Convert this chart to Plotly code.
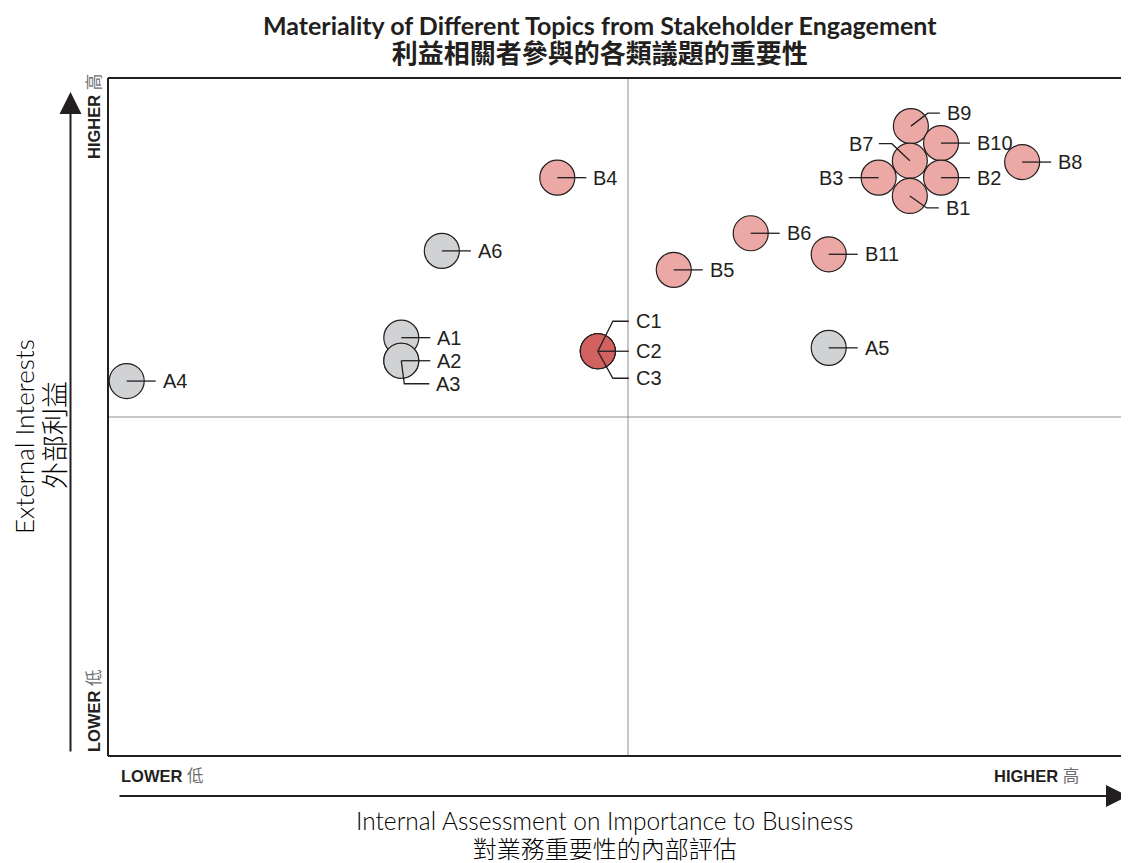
import plotly.graph_objects as go

# ---------------- data ----------------
labels = ["A4", "A6", "A1", "A3", "A2", "A5",
          "C1", "C3", "C2",
          "B4", "B5", "B6", "B11",
          "B9", "B7", "B10", "B3", "B2", "B1", "B8"]
groups = ["A", "A", "A", "A", "A", "A",
          "C", "C", "C",
          "B", "B", "B", "B",
          "B", "B", "B", "B", "B", "B", "B"]
x_vals = [1.8, 32.1, 28.2, 28.2, 28.2, 69.3,
          47.1, 47.1, 47.1,
          43.2, 54.4, 61.8, 69.3,
          77.2, 77.1, 80.1, 74.1, 80.1, 77.1, 87.9]
y_vals = [55.3, 74.5, 61.7, 58.3, 58.3, 60.2,
          59.7, 59.7, 59.7,
          85.3, 71.7, 77.1, 74.0,
          92.9, 87.8, 90.4, 85.3, 85.3, 82.6, 87.6]

title_en = "Materiality of Different Topics from Stakeholder Engagement"
title_zh = "利益相關者參與的各類議題的重要性"
xtitle_en = "Internal Assessment on Importance to Business"
xtitle_zh = "對業務重要性的內部評估"
ytitle_en = "External Interests"
ytitle_zh = "外部利益"
low_txt = "LOWER"
low_zh = "低"
high_txt = "HIGHER"
high_zh = "高"

# ---------------- styling ----------------
OFF = 8                      # page body margin
W, H = 1129 - OFF, 863 - OFF
ML, MT, MB, MR = 108 - OFF, 78 - OFF, 107, 0
PX_X = 1040 / 100.0   # pixels per x unit
PX_Y = 678 / 100.0    # pixels per y unit
XMAX = (W - ML - MR) / PX_X

colors = {"A": "#D1D2D4", "B": "#EBA8A5", "C": "#D1625F"}
INK = "#231F20"

# leader paths in pixel offsets (dx, dy with dy positive downward)
default_path = [(0, 0), (29, 0)]
paths = {
    "B3": [(0, 0), (-30, 0)],
    "B7": [(0, 0), (-18, -17), (-31, -17)],
    "B9": [(0, 0), (17, -13), (29, -13)],
    "B1": [(0, 0), (17, 12), (29, 12)],
    "C1": [(0, 0), (15, -30), (31, -30)],
    "C2": [(0, 0), (31, 0)],
    "C3": [(0, 0), (15, 27), (31, 27)],
    "A3": [(0, 0), (3, 23), (28, 23)],
}

fig = go.Figure()

# quadrant lines
fig.add_shape(type="line", xref="x", yref="paper", x0=50, x1=50, y0=0, y1=1,
              line=dict(color="#8E8E8E", width=1), layer="below")
fig.add_shape(type="line", xref="paper", yref="y", x0=0, x1=1, y0=50, y1=50,
              line=dict(color="#8E8E8E", width=1), layer="below")
# frame
for (x0, y0, x1, y1) in [(0, 0, 0, 1), (0, 1, 1, 1), (0, 0, 1, 0)]:
    fig.add_shape(type="line", xref="paper", yref="paper", x0=x0, y0=y0, x1=x1, y1=y1,
                  line=dict(color=INK, width=2))

# circles
fig.add_trace(go.Scatter(
    x=x_vals, y=y_vals, mode="markers",
    marker=dict(size=35, color=[colors[g] for g in groups],
                line=dict(color=INK, width=1.2), opacity=1),
    hoverinfo="text", text=labels, showlegend=False))

# leader lines
lx, ly = [], []
for lab, x, y in zip(labels, x_vals, y_vals):
    p = paths.get(lab, default_path)
    for dx, dy in p:
        lx.append(x + dx / PX_X)
        ly.append(y - dy / PX_Y)
    lx.append(None)
    ly.append(None)
fig.add_trace(go.Scatter(x=lx, y=ly, mode="lines",
                         line=dict(color=INK, width=1.3),
                         hoverinfo="skip", showlegend=False))

LABEL_FONT = dict(family="Liberation Sans, Arial, sans-serif", size=20, color=INK)
for lab, x, y in zip(labels, x_vals, y_vals):
    p = paths.get(lab, default_path)
    ex, ey = p[-1]
    left = ex < 0
    fig.add_annotation(x=x, y=y, xref="x", yref="y", text=lab, showarrow=False,
                       xanchor="right" if left else "left", yanchor="middle",
                       xshift=ex + (-4 if left else 5), yshift=-ey,
                       font=LABEL_FONT)

def px2paper(px, py):
    # page pixel coordinates -> paper coordinates
    return (px - OFF - ML) / (W - ML - MR), (H - MB - (py - OFF)) / (H - MT - MB)

# title (two lines in one text block)
tx, ty = px2paper(600, 40)
fig.add_annotation(xref="paper", yref="paper", x=tx, y=ty,
                   text="<span style='font-size:25px'><b>" + title_en + "</b></span><br>"
                        "<span style='font-size:26px'><b>" + title_zh + "</b></span>",
                   showarrow=False, xanchor="center", yanchor="middle",
                   font=dict(family="Lato, Noto Sans CJK TC, sans-serif", size=21.5, color=INK))

# x axis title (two lines)
tx, ty = px2paper(605, 834)
fig.add_annotation(xref="paper", yref="paper", x=tx, y=ty,
                   text="<span style='font-size:24.5px'>" + xtitle_en + "</span><br>"
                        "<span style='font-size:24px'>" + xtitle_zh + "</span>",
                   showarrow=False, xanchor="center", yanchor="middle",
                   font=dict(family="Lato, Noto Sans CJK TC, sans-serif", size=21.5,
                             color="#000000", weight=300))

# y axis title
tx, ty = px2paper(24, 437)
fig.add_annotation(xref="paper", yref="paper", x=tx, y=ty, text=ytitle_en, textangle=-90,
                   showarrow=False, xanchor="center", yanchor="middle",
                   font=dict(family="Lato, sans-serif", size=26, color="#000000", weight=300))
tx, ty = px2paper(53, 435)
fig.add_annotation(xref="paper", yref="paper", x=tx, y=ty, text=ytitle_zh, textangle=-90,
                   showarrow=False, xanchor="center", yanchor="middle",
                   font=dict(family="Noto Sans CJK TC, sans-serif", size=27, color="#000000", weight=300))

# low / high labels
def lh(word, zh):
    return "<b>" + word + "</b> <span style='color:#6D6E71'>" + zh + "</span>"

SMALL = dict(family="Liberation Sans, Arial, Noto Sans CJK TC, sans-serif", size=16.5, color=INK)
tx, ty = px2paper(119, 776)
fig.add_annotation(xref="paper", yref="paper", x=tx, y=ty, text=lh(low_txt, low_zh),
                   showarrow=False, xanchor="left", yanchor="middle", font=SMALL)
tx, ty = px2paper(1081, 776)
fig.add_annotation(xref="paper", yref="paper", x=tx, y=ty, text=lh(high_txt, high_zh),
                   showarrow=False, xanchor="right", yanchor="middle", font=SMALL)
tx, ty = px2paper(94, 117)
fig.add_annotation(xref="paper", yref="paper", x=tx, y=ty, text=lh(high_txt, high_zh),
                   textangle=-90, showarrow=False, xanchor="center", yanchor="middle", font=SMALL)
tx, ty = px2paper(94, 711)
fig.add_annotation(xref="paper", yref="paper", x=tx, y=ty, text=lh(low_txt, low_zh),
                   textangle=-90, showarrow=False, xanchor="center", yanchor="middle", font=SMALL)

# axis arrows
tx, ty = px2paper(70.5, 92)
fig.add_annotation(xref="paper", yref="paper", x=tx, y=ty, text="", showarrow=True,
                   ax=0, ay=661, arrowhead=2, arrowsize=2.2, arrowwidth=2,
                   arrowcolor=INK, standoff=0)
tx, ty = px2paper(1128, 796)
fig.add_annotation(xref="paper", yref="paper", x=tx, y=ty, text="", showarrow=True,
                   ax=-1010, ay=0, arrowhead=2, arrowsize=2.2, arrowwidth=2,
                   arrowcolor=INK, standoff=0)

fig.update_layout(
    width=W, height=H,
    margin=dict(l=ML, r=MR, t=MT, b=MB),
    paper_bgcolor="white", plot_bgcolor="white",
    xaxis=dict(range=[0, XMAX], visible=False, fixedrange=True),
    yaxis=dict(range=[0, 100], visible=False, fixedrange=True),
    showlegend=False,
)

fig.write_html("out.html")
